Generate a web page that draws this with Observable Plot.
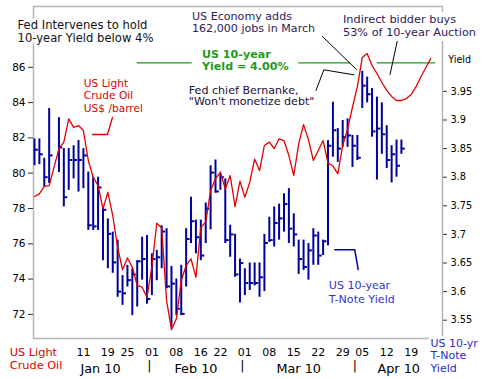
<!DOCTYPE html>
<html><head><meta charset="utf-8">
<script src="https://cdn.jsdelivr.net/npm/d3@7"></script>
<script src="https://cdn.jsdelivr.net/npm/@observablehq/plot@0.6"></script>
<style>
html,body{margin:0;padding:0;background:#fff;}
#chart{width:485px;height:379px;overflow:hidden;}
svg{display:block;}
</style></head><body><div id="chart"></div>
<script>
// ---- trading-day slots ----
const days = [
 "2009-12-28","2009-12-29","2009-12-30","2009-12-31","2010-01-01",
 "2010-01-04","2010-01-05","2010-01-06","2010-01-07","2010-01-08",
 "2010-01-11","2010-01-12","2010-01-13","2010-01-14","2010-01-15",
 "2010-01-19","2010-01-20","2010-01-21","2010-01-22",
 "2010-01-25","2010-01-26","2010-01-27","2010-01-28","2010-01-29",
 "2010-02-01","2010-02-02","2010-02-03","2010-02-04","2010-02-05",
 "2010-02-08","2010-02-09","2010-02-10","2010-02-11","2010-02-12",
 "2010-02-16","2010-02-17","2010-02-18","2010-02-19",
 "2010-02-22","2010-02-23","2010-02-24","2010-02-25","2010-02-26",
 "2010-03-01","2010-03-02","2010-03-03","2010-03-04","2010-03-05",
 "2010-03-08","2010-03-09","2010-03-10","2010-03-11","2010-03-12",
 "2010-03-15","2010-03-16","2010-03-17","2010-03-18","2010-03-19",
 "2010-03-22","2010-03-23","2010-03-24","2010-03-25","2010-03-26",
 "2010-03-29","2010-03-30","2010-03-31","2010-04-01",
 "2010-04-05","2010-04-06","2010-04-07","2010-04-08","2010-04-09",
 "2010-04-12","2010-04-13","2010-04-14","2010-04-15","2010-04-16",
 "2010-04-19","2010-04-20","2010-04-21","2010-04-22","2010-04-23"
];

// US light crude oil, US$/barrel
const oil = [78.68,78.83,79.25,79.30,80.34,81.38,81.76,83.08,82.60,82.70,
 82.42,80.72,79.77,79.30,77.98,78.92,77.60,75.80,74.53,75.20,
 74.67,73.64,73.54,72.97,74.70,77.17,76.90,72.80,71.13,71.75,
 73.92,74.77,75.15,74.10,76.94,77.23,79.02,79.68,80.06,79.10,
 79.87,78.11,79.55,78.64,79.49,80.80,80.15,81.57,81.76,81.40,
 81.95,81.85,81.00,79.87,81.66,82.75,81.90,80.72,81.29,81.85,
 80.57,80.42,79.96,81.57,82.50,83.74,84.90,86.55,86.78,86.10,
 85.65,85.14,84.69,84.35,84.12,84.12,84.23,84.46,84.90,85.48,
 85.99,86.50];

// US 10-year T-Note yield (high / low / close)
const yieldHigh = [3.867,3.867,3.833,3.920,null,3.904,3.850,3.850,3.855,3.864,
 3.850,3.809,3.800,3.800,3.748,3.727,3.704,3.690,3.628,3.646,
 3.640,3.654,3.695,3.698,3.666,3.672,3.715,3.710,3.644,3.622,
 3.646,3.710,3.765,3.725,3.725,3.755,3.820,3.830,3.806,3.797,
 3.716,3.700,3.657,3.640,3.650,3.650,3.650,3.700,3.730,3.748,
 3.753,3.771,3.780,3.736,3.690,3.690,3.684,3.710,3.704,3.690,
 3.864,3.931,3.885,3.899,3.902,3.873,3.873,3.985,3.975,3.955,
 3.940,3.930,3.890,3.855,3.865,3.865,null,null,null,null,null,null];
const yieldLow = [3.820,3.822,3.782,3.789,null,3.808,3.748,3.777,3.797,3.774,
 3.780,3.707,3.707,3.707,3.654,3.640,3.632,3.590,3.576,3.608,
 3.558,3.573,3.620,3.578,3.593,3.619,3.640,3.605,3.538,3.558,
 3.558,3.608,3.684,3.666,3.654,3.684,3.708,3.772,3.777,3.684,
 3.660,3.625,3.580,3.593,3.602,3.610,3.590,3.600,3.686,3.678,
 3.690,3.704,3.684,3.678,3.630,3.637,3.620,3.646,3.646,3.663,
 3.680,3.835,3.826,3.852,3.852,3.817,3.829,3.920,3.930,3.870,
 3.795,3.840,3.815,3.790,3.800,3.840,null,null,null,null,null,null];
const yieldClose = [3.848,3.840,3.800,3.838,null,3.852,3.765,3.830,3.830,3.830,
 3.838,3.716,3.714,3.782,3.743,3.701,3.651,3.600,3.597,3.620,
 3.630,3.653,3.657,3.587,3.657,3.660,3.705,3.609,3.614,3.570,
 3.561,3.692,3.723,3.695,3.663,3.745,3.808,3.775,3.800,3.690,
 3.700,3.630,3.650,3.615,3.615,3.615,3.625,3.685,3.690,3.720,
 3.728,3.753,3.710,3.700,3.657,3.643,3.672,3.698,3.663,3.688,
 3.855,3.882,3.850,3.870,3.873,3.855,3.834,3.960,3.945,3.880,
 3.885,3.875,3.830,3.840,3.820,3.850,null,null,null,null,null,null];

// tick labels
const weekTicks = ["2010-01-11","2010-01-19","2010-01-25","2010-02-01","2010-02-08",
 "2010-02-16","2010-02-22","2010-03-01","2010-03-08","2010-03-15","2010-03-22",
 "2010-03-29","2010-04-05","2010-04-12","2010-04-19"];
const monthLabels = ["Jan 10","Feb 10","Mar 10","Apr 10"];
const oilTicks = [72,74,76,78,80,82,84,86];
const yieldTicks = [3.55,3.6,3.65,3.7,3.75,3.8,3.85,3.9,3.95];
const yieldTarget = 4.0;

// annotation anchors in data units: [slot, oil-scale value]
const econLine = [[58.87,87.745],[65.82,85.875]];
const auctionLine = [[74.26,87.615],[72.67,85.592]];
const bernankeLine = [[57.54,84.686],[59.14,85.858],[65.27,85.575]];
const oilLeader = [[11.86,82.193],[14.92,82.193],[15.94,83.156]];
const yieldLeader = [[61.39,75.66],[65.47,75.66],[66.17,74.544]];
const targetSegments = [[21.0,32.24],[54.03,64.6],[70.05,82.0]];

// ---- scales ----
const xDomain = [-0.2, 83.4];
const oilDomain = [70.635, 89.445];
const yieldDomain = [3.518, 4.0984];
const toOil = d3.scaleLinear().domain(yieldDomain).range(oilDomain);

const slotOf = d => days.indexOf(d);
const oilData = days.map((d, i) => ({slot: i, value: oil[i]}));
const bars = days.map((d, i) => ({slot: i, hi: yieldHigh[i], lo: yieldLow[i], cl: yieldClose[i]}))
  .filter(b => b.hi != null);

// month bounds
const monthKeys = ["2010-01","2010-02","2010-03","2010-04"];
const firstSlot = k => days.findIndex(d => d.startsWith(k));
const lastSlot = k => days.length - 1 - [...days].reverse().findIndex(d => d.startsWith(k));
const separators = monthKeys.slice(0, -1).map(k => lastSlot(k) + 0.5);
const monthLeft = monthKeys.map((k, i) => i === 0 ? firstSlot(k) - 0.5 : separators[i - 1]);
const monthRight = monthKeys.map((k, i) => i < separators.length ? separators[i] : xDomain[1]);
const monthCenters = monthLeft.map((l, i) => (l + monthRight[i]) / 2);

const FONT = "DejaVu Sans, Verdana, sans-serif";
const ML = 33, MT = 6;
// one text mark per line (baseline given), white halo pass first, then the text pass
function label(lines, px, firstBaseline, spacing, opts, halo = 6) {
  const base = lines.map((t, i) => Object.assign({
    frameAnchor: "top-left", dx: px - ML, dy: firstBaseline + i * spacing - MT,
    textAnchor: "start", lineAnchor: "bottom", fontFamily: FONT, text: t
  }, opts));
  const marks = [];
  if (halo > 0) base.forEach(o => marks.push(Plot.text([o.text], Object.assign({}, o, {text: d => d, fill: "white", stroke: "white", strokeWidth: halo}))));
  base.forEach(o => marks.push(Plot.text([o.text], Object.assign({}, o, {text: d => d}))));
  return marks;
}

const BLUE = "#00009c", RED = "#e00000", GREEN = "#1f9a1f", PURPLE = "#2e1a5c";

const chart = Plot.plot({
  width: 485, height: 379,
  marginLeft: ML, marginRight: 43, marginTop: MT, marginBottom: 41,
  x: {domain: xDomain, axis: null},
  y: {domain: oilDomain, axis: null},
  style: {fontFamily: FONT, background: "white", color: "#000"},
  marks: [
    Plot.frame({stroke: "#b4b4b4", strokeWidth: 1.5}),
    Plot.ruleY(targetSegments, {y: () => toOil(yieldTarget), x1: d => d[0], x2: d => d[1], stroke: GREEN, strokeWidth: 1.3}),
    Plot.ruleX(bars, {x: "slot", y1: d => toOil(d.hi), y2: d => toOil(d.lo), stroke: BLUE, strokeWidth: 2}),
    Plot.ruleY(bars, {y: d => toOil(d.cl), x1: "slot", x2: d => d.slot + 0.8, stroke: BLUE, strokeWidth: 2}),
    Plot.line(oilData, {x: "slot", y: "value", stroke: RED, strokeWidth: 1.3}),
    Plot.line(econLine, {x: d => d[0], y: d => d[1], stroke: "#000", strokeWidth: 1}),
    Plot.line(auctionLine, {x: d => d[0], y: d => d[1], stroke: "#000", strokeWidth: 1}),
    Plot.line(bernankeLine, {x: d => d[0], y: d => d[1], stroke: "#000", strokeWidth: 1}),
    Plot.line(oilLeader, {x: d => d[0], y: d => d[1], stroke: RED, strokeWidth: 1.3}),
    Plot.line(yieldLeader, {x: d => d[0], y: d => d[1], stroke: BLUE, strokeWidth: 1.5}),
    Plot.axisY(oilTicks, {anchor: "left", label: null, tickSize: 5, tickPadding: 3, fontSize: 10.5, stroke: "#333"}),
    Plot.axisY(yieldTicks.map(v => toOil(v)), {anchor: "right", label: null, tickSize: 4, tickPadding: 4, fontSize: 9.8,
      stroke: "#333", tickFormat: d => String(+toOil.invert(d).toFixed(2))}),
    Plot.axisX(weekTicks.map(slotOf), {anchor: "bottom", label: null, tickSize: 0, tickPadding: 9.5, fontSize: 11,
      tickFormat: s => days[s].slice(8)}),
    Plot.text(monthLabels, {x: monthCenters, frameAnchor: "bottom", dy: 34, lineAnchor: "bottom", fontSize: 12.8, fill: "#000"}),
    Plot.text(separators, {x: d => d, text: () => "|", frameAnchor: "bottom", dy: 31.5, lineAnchor: "bottom", fontSize: 12.5, fill: "#000"}),
    ...label(["Fed Intervenes to hold", "10-year Yield below 4%"], 17, 28.4, 12.8, {fontSize: 11.6, fill: "#111"}, 6),
    ...label(["US Economy adds", "162,000 jobs in March"], 191.5, 19.9, 11.6, {fontSize: 11.1, fill: PURPLE}),
    ...label(["Indirect bidder buys", "53% of 10-year Auction"], 342.5, 22.3, 13.3, {fontSize: 11.3, fill: PURPLE}, 10),
    ...label(["US 10-year", "Yield = 4.00%"], 201.5, 57.7, 11.5, {fontSize: 11.1, fontWeight: "bold", fill: GREEN}),
    ...label(["Fed chief Bernanke,", "\"Won't monetize debt\""], 188.3, 93.2, 11.7, {fontSize: 11.1, fill: "#1c0f3a"}),
    ...label(["US Light", "Crude Oil", "US$ /barrel"], 83.3, 86.5, 12.4, {fontSize: 10.6, fill: RED}),
    ...label(["US 10-year", "T-Note Yield"], 328.3, 288.9, 13.3, {fontSize: 11.1, fill: "#3333cc"}),
    ...label(["US Light", "Crude Oil"], 9.3, 355.5, 13.4, {fontSize: 11.3, fill: RED}),
    ...label(["US 10-yr", "T-Note", "Yield"], 430, 346, 12.8, {fontSize: 11, fill: "#2a2acc"}),
    ...label(["Yield"], 447.7, 62.8, 0, {fontSize: 9.6, fill: "#000"}, 0)
  ]
});
document.getElementById("chart").appendChild(chart);
</script></body></html>
